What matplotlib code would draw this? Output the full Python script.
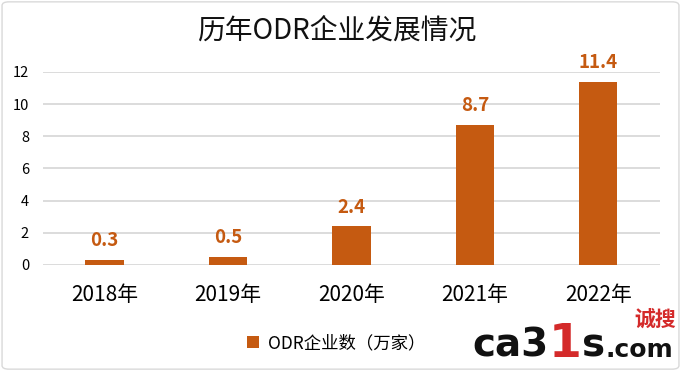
import matplotlib.pyplot as plt
from matplotlib.patches import FancyBboxPatch

plt.rcParams['font.family'] = ['Noto Sans CJK SC', 'DejaVu Sans']

years = ['2018年', '2019年', '2020年', '2021年', '2022年']
counts = [0.3, 0.5, 2.4, 8.7, 11.4]
yticks = [0, 2, 4, 6, 8, 10, 12]

BAR_COLOR = '#C55A11'

fig = plt.figure(figsize=(6.81, 3.71), dpi=100)
ax = fig.add_axes([0.063, 0.286, 0.906, 0.52])

x = list(range(len(years)))
bars = ax.bar(x, counts, width=0.31, color=BAR_COLOR, zorder=3,
              label='ODR企业数（万家）')
for xi, v in zip(x, counts):
    ax.text(xi, v + 0.6, f'{v}', ha='center', va='bottom', color=BAR_COLOR,
            fontsize=13.5, fontweight='bold', clip_on=False)

ax.set_xlim(-0.5, len(years) - 0.5)
ax.set_ylim(0, 12)
ax.set_yticks(yticks)
ax.set_xticks(x)
ax.set_xticklabels(years, fontsize=15)
ax.tick_params(axis='y', labelsize=10.5, length=0, pad=10)
ax.tick_params(axis='x', length=0, pad=14)
ax.grid(axis='y', color='#d9d9d9', linewidth=1.3, zorder=0)
for s in ax.spines.values():
    s.set_visible(False)

fig.text(0.495, 0.918, '历年ODR企业发展情况', ha='center', va='center',
         fontsize=20, color='#111111')

fig.legend(handles=[bars], labels=['ODR企业数（万家）'], loc='center',
           bbox_to_anchor=(0.494, 0.075), frameon=False, fontsize=12.5,
           handlelength=0.7, handleheight=0.7, handletextpad=0.5)

# watermark (ca315.com 诚搜)
wm = ['DejaVu Sans']
fig.text(472 / 681, 0.038, 'ca3', fontsize=28, fontweight='bold',
         color='#111111', ha='left', va='baseline', family=wm)
fig.text(549 / 681, 0.038, '1', fontsize=34, fontweight='bold',
         color='#d42a2a', ha='left', va='baseline', family=wm)
fig.text(582 / 681, 0.038, 's', fontsize=28, fontweight='bold',
         color='#111111', ha='left', va='baseline', family=wm)
fig.text(606 / 681, 0.038, '.com', fontsize=18, fontweight='bold',
         color='#111111', ha='left', va='baseline', family=wm)
fig.text(634 / 681, 0.14, '诚搜', fontsize=15, fontweight='bold',
         color='#d42a2a', ha='left', va='center')

border = FancyBboxPatch((0.003, 0.005), 0.994, 0.99,
                        boxstyle='round,pad=0,rounding_size=0.01',
                        transform=fig.transFigure, fill=False,
                        edgecolor='#d9d9d9', linewidth=1)
fig.patches.append(border)

fig.savefig('out.png', dpi=100)
